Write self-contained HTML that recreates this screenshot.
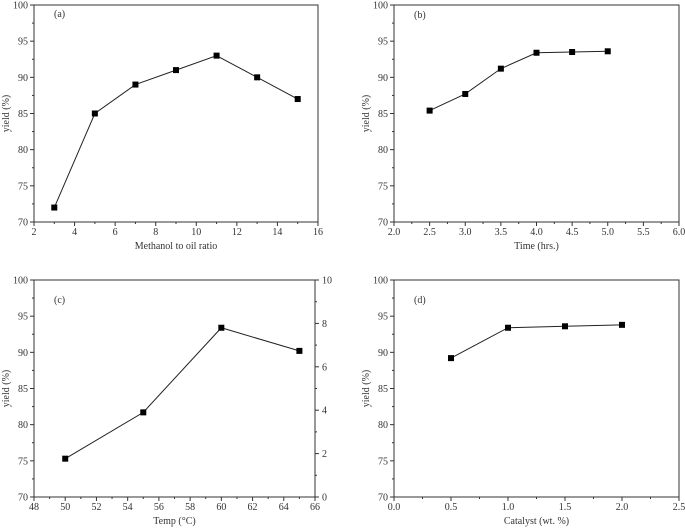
<!DOCTYPE html>
<html><head><meta charset="utf-8"><style>
body{margin:0;background:#fff;}
svg{display:block;font-family:"Liberation Serif",serif;}
text{fill:#333;font-size:10px;}
</style></head><body>
<svg id="chart" width="685" height="531" viewBox="0 0 685 531"></svg>
<script>
const aX=[3,5,7,9,11,13,15];
const aY=[72,85,89,91,93,90,87];
const bX=[2.5,3.0,3.5,4.0,4.5,5.0];
const bY=[85.4,87.7,91.2,93.4,93.5,93.6];
const cX=[50,55,60,65];
const cY=[75.3,81.7,93.4,90.2];
const dX=[0.5,1.0,1.5,2.0];
const dY=[89.2,93.4,93.6,93.8];
const aTicks=[2,4,6,8,10,12,14,16];
const bTicks=[2.0,2.5,3.0,3.5,4.0,4.5,5.0,5.5,6.0];
const cTicks=[48,50,52,54,56,58,60,62,64,66];
const dTicks=[0.0,0.5,1.0,1.5,2.0,2.5];
const yTicks=[70,75,80,85,90,95,100];
const cRightTicks=[0,2,4,6,8,10];

const NS="http://www.w3.org/2000/svg";
const svg=document.getElementById('chart');
function mk(tag,attrs,parent,txt){const e=document.createElementNS(NS,tag);for(const k in attrs)e.setAttribute(k,attrs[k]);if(txt!==undefined)e.textContent=txt;parent.appendChild(e);return e;}

function panel(id,box,xs,ys,xt,xdec,label,xlabel,rightTicks,labelDy){
  const g=mk('g',{},svg);
  
  
  const [x0,y0,x1,y1]=box;
  const xmin=xt[0],xmax=xt[xt.length-1];
  const sx=v=>x0+(v-xmin)/(xmax-xmin)*(x1-x0);
  const sy=v=>y1-(v-70)/30*(y1-y0);
  const frame=mk('rect',{x:x0,y:y0,width:x1-x0,height:y1-y0,fill:'none',stroke:'#333','stroke-width':1},g);
  
  
  xt.forEach((t,i)=>{
    const x=sx(t);
    mk('line',{x1:x,x2:x,y1:y1,y2:y1+4,stroke:'#333'},g);
    if(i<xt.length-1){const xm=sx(t+(xt[1]-xt[0])/2);mk('line',{x1:xm,x2:xm,y1:y1,y2:y1+2,stroke:'#333'},g);}
    const tl=mk('text',{x:x,y:y1+13,'text-anchor':'middle'},g,t.toFixed(xdec));
    
    
  });
  yTicks.forEach((t,i)=>{
    const y=sy(t);
    mk('line',{x1:x0-4,x2:x0,y1:y,y2:y,stroke:'#333'},g);
    if(i<yTicks.length-1){const ym=sy(t+2.5);mk('line',{x1:x0-2,x2:x0,y1:ym,y2:ym,stroke:'#333'},g);}
    const tl=mk('text',{x:x0-6,y:y+3.5,'text-anchor':'end'},g,t);
    
    
  });
  if(rightTicks){
    rightTicks.forEach((t,i)=>{
      const y=y1-t/10*(y1-y0);
      mk('line',{x1:x1,x2:x1+4,y1:y,y2:y,stroke:'#333'},g);
      if(i<rightTicks.length-1){const ym=y1-(t+1)/10*(y1-y0);mk('line',{x1:x1,x2:x1+2,y1:ym,y2:ym,stroke:'#333'},g);}
      const tl=mk('text',{x:x1+7,y:y+3.5},g,t);
      
      
    });
  }
  const yl=mk('text',{x:0,y:0,transform:`translate(${x0-25},${(y0+y1)/2}) rotate(-90)`,'text-anchor':'middle'},g,'yield (%)');
  
  
  const xl=mk('text',{x:(x0+x1)/2,y:y1+27,'text-anchor':'middle'},g,xlabel);
  
  
  const pl=mk('text',{x:x0+20,y:y0+labelDy},g,label);
  
  
  const pts=xs.map((v,i)=>sx(v)+','+sy(ys[i])).join(' ');
  const line=mk('polyline',{points:pts,fill:'none',stroke:'#222','stroke-width':1},g);
  
  
  xs.forEach((v,i)=>{
    const m=mk('rect',{x:sx(v)-3,y:sy(ys[i])-3,width:6,height:6,fill:'#000'},g);
    
    
  });
}
panel('a',[34,5,318,222],aX,aY,aTicks,0,'(a)','Methanol to oil ratio',null,12);
panel('b',[394,5,679,222],bX,bY,bTicks,1,'(b)','Time (hrs.)',null,13);
panel('c',[34,280,315,497],cX,cY,cTicks,0,'(c)','Temp (°C)',cRightTicks,23);
panel('d',[394,280,679,497],dX,dY,dTicks,1,'(d)','Catalyst (wt. %)',null,23);
</script>
</body></html>
